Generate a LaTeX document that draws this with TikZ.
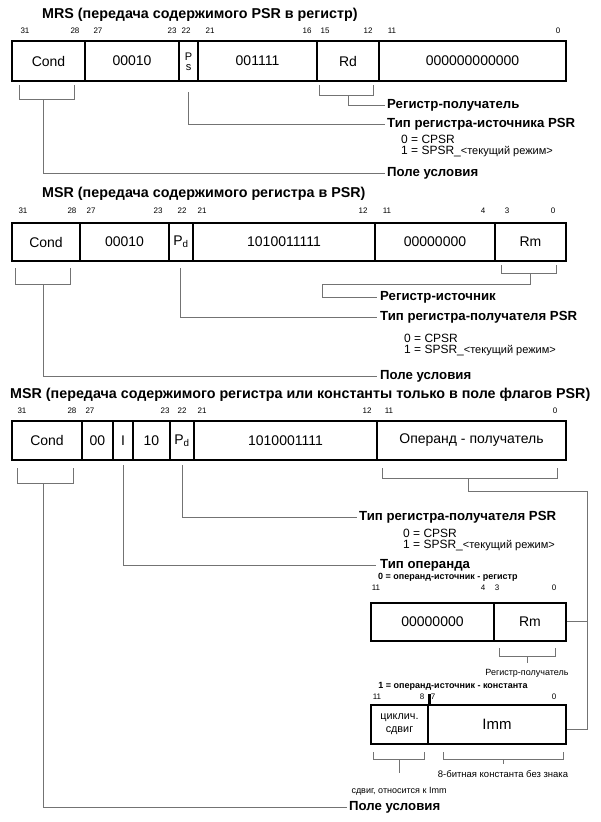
\documentclass[tikz,border=0pt]{standalone}
\usepackage{fontspec}
\setmainfont{Liberation Sans}
\newcommand\fsz[1]{\fontsize{#1}{#1}\selectfont}
\begin{document}
\begin{tikzpicture}[x=1pt,y=-1pt,
  cell/.style={draw=black, line width=2.6pt, inner sep=0pt, align=center, font=\fsz{14}},
  bitn/.style={inner sep=0pt, font=\fsz{8}},
  ttl/.style={anchor=west, inner sep=0pt, font=\bfseries\fsz{14.3}},
  lbl/.style={anchor=west, inner sep=0pt, font=\bfseries\fsz{13.2}},
  val/.style={anchor=west, inner sep=0pt, font=\fsz{12}, text height=8pt, text depth=1.5pt},
  sbold/.style={inner sep=0pt, font=\bfseries\fsz{9}},
  sreg/.style={inner sep=0pt, font=\fsz{9}},
  psl/.style={inner sep=0pt, font=\fsz{11}, text height=7pt, text depth=1pt},
  conn/.style={draw=black!55, line width=0.9pt}]
\fill[white] (0,0) rectangle (600,822);
\useasboundingbox (0,0) rectangle (600,822);
\newcommand\regm{{\fsz{11}<текущий режим>}}
% ===== Section 1 =====
\node[ttl] (t1) at (42,15) {MRS (передача содержимого PSR в регистр)};
\foreach \x/\t [count=\i] in {25/31,75/28,98/27,172/23,186/22,210/21,307/16,325/15,368/12,392/11,558/0}
  \node[bitn] (b1-\i) at (\x,31) {\t};
\node[cell, minimum width=73pt, minimum height=40pt] (r1a) at (48.5,61) {Cond};
\node[cell, minimum width=94pt, minimum height=40pt] (r1b) at (132,61) {00010};
\node[cell, minimum width=19pt, minimum height=40pt] (r1c) at (188.5,61) {};
\node[psl] (r1cp) at (188.5,57) {P};
\node[psl] (r1cs) at (188.5,67) {s};
\node[cell, minimum width=119pt, minimum height=40pt] (r1d) at (257.5,61) {001111};
\node[cell, minimum width=62pt, minimum height=40pt] (r1e) at (348,61) {Rd};
\node[cell, minimum width=187pt, minimum height=40pt] (r1f) at (472.5,61) {000000000000};
\node[lbl] (l1rd) at (387,105) {Регистр-получатель};
\node[lbl] (l1ps) at (387,124) {Тип регистра-источника PSR};
\node[val] (l1v0) at (401,140) {0 = CPSR};
\node[val] (l1v1) at (401,151) {1 = SPSR\_\regm};
\node[lbl] (l1pu) at (387,173) {Поле условия};
\draw[conn] (19,85) |- (74,99) -- (74,85);
\draw[conn] (43,99) |- ([xshift=-2pt]l1pu.west);
\draw[conn] ([yshift=-10pt]r1c.south) |- ([xshift=-2pt]l1ps.west);
\draw[conn] (319,85) |- (373,95) -- (373,85);
\draw[conn] (348,95) |- ([xshift=-2pt]l1rd.west);
% ===== Section 2 =====
\node[ttl] (t2) at (42,194) {MSR (передача содержимого регистра в PSR)};
\foreach \x/\t [count=\i] in {23/31,72/28,91/27,158/23,182/22,202/21,363/12,387/11,483/4,507/3,553/0}
  \node[bitn] (b2-\i) at (\x,211) {\t};
\node[cell, minimum width=68pt, minimum height=38pt] (r2a) at (46,242) {Cond};
\node[cell, minimum width=89pt, minimum height=38pt] (r2b) at (124.5,242) {00010};
\node[cell, minimum width=24pt, minimum height=38pt] (r2c) at (181,242) {P\textsubscript{d}};
\node[cell, minimum width=182pt, minimum height=38pt] (r2d) at (284,242) {1010011111};
\node[cell, minimum width=120pt, minimum height=38pt] (r2e) at (435,242) {00000000};
\node[cell, minimum width=71pt, minimum height=38pt] (r2f) at (530.5,242) {Rm};
\node[lbl] (l2rs) at (380,297) {Регистр-источник};
\node[lbl] (l2pd) at (380,317) {Тип регистра-получателя PSR};
\node[val] (l2v0) at (404,339) {0 = CPSR};
\node[val] (l2v1) at (404,350) {1 = SPSR\_\regm};
\node[lbl] (l2pu) at (380,376) {Поле условия};
\draw[conn] (15,268) |- (70,284) -- (70,268);
\draw[conn] (43,284) |- ([xshift=-3pt]l2pu.west);
\draw[conn] (180,268) |- ([xshift=-3pt]l2pd.west);
\draw[conn] (501,265) |- (556,273) -- (556,265);
\draw[conn] (530,273) -- (530,284) -- (322,284) |- ([xshift=-3pt]l2rs.west);
% ===== Section 3 =====
\node[ttl] (t3) at (10,395) {MSR (передача содержимого регистра или константы только в поле флагов PSR)};
\foreach \x/\t [count=\i] in {22/31,72/28,90/27,165/23,182/22,202/21,367/12,389/11,555/0}
  \node[bitn] (b3-\i) at (\x,411) {\t};
\node[cell, minimum width=70pt, minimum height=39pt] (r3a) at (47,440.5) {Cond};
\node[cell, minimum width=31pt, minimum height=39pt] (r3b) at (97.5,440.5) {00};
\node[cell, minimum width=20pt, minimum height=39pt] (r3c) at (123,440.5) {I};
\node[cell, minimum width=37pt, minimum height=39pt] (r3d) at (151.5,440.5) {10};
\node[cell, minimum width=24pt, minimum height=39pt] (r3e) at (182,440.5) {P\textsubscript{d}};
\node[cell, minimum width=183pt, minimum height=39pt] (r3f) at (285.5,440.5) {1010001111};
\node[cell, minimum width=189pt, minimum height=39pt] (r3g) at (471.5,440.5) {Операнд - получатель};
\node[lbl] (l3pd) at (359,517) {Тип регистра-получателя PSR};
\node[val] (l3v0) at (403,534) {0 = CPSR};
\node[val] (l3v1) at (403,545) {1 = SPSR\_\regm};
\node[lbl] (l3to) at (380,565) {Тип операнда};
\node[sbold, anchor=west] (l3o0) at (378,577) {0 = операнд-источник - регистр};
\node[lbl] (l3pu) at (349,807) {Поле условия};
\draw[conn] (17,468) |- (73,483) -- (73,468);
\draw[conn] (43,483) |- ([xshift=-2pt]l3pu.west);
\draw[conn] (123,465) |- ([xshift=-4pt]l3to.west);
\draw[conn] (182,465) |- ([xshift=-2pt]l3pd.west);
\draw[conn] (382,468) |- (557,478) -- (557,468);
\coordinate (bus) at (587,491);
% ----- register operand box -----
\foreach \x/\t [count=\i] in {376/11,483/4,497/3,554/0}
  \node[bitn] (b4-\i) at (\x,588) {\t};
\node[cell, minimum width=123pt, minimum height=38pt] (r4a) at (432.5,622) {00000000};
\node[cell, minimum width=72pt, minimum height=38pt] (r4b) at (530,622) {Rm};
\draw[conn] (499,648) |- (555,656) -- (555,648);
\draw[conn] (527,656) -- (527,663);
\node[sreg] (l4rp) at (527,673) {Регистр-получатель};
\node[sbold] (l4o1) at (453,686) {1 = операнд-источник - константа};
% ----- immediate operand box -----
\foreach \x/\t [count=\i] in {377/11,422/8,433/7,554/0}
  \node[bitn] (b5-\i) at (\x,697) {\t};
\node[cell, minimum width=57pt, minimum height=39pt, font=\fsz{10.8}] (r5a) at (399.5,724.5) {циклич.\\[2pt]сдвиг};
\node[cell, minimum width=138pt, minimum height=39pt, font=\fsz{15}] (r5b) at (497,724.5) {Imm};
\draw[line width=2.6pt] (r5a.north east) -- ++(0,-10);
\draw[conn] (373,752) |- (424,759) -- (424,752);
\draw[conn] (399,759) -- (399,773);
\draw[conn] (443,752) |- (563,759) -- (563,752);
\draw[conn] (503,759) -- (503,764);
\node[sreg, font=\fsz{9.5}] (l5c) at (503,774) {8-битная константа без знака};
\node[sreg] (l5s) at (399,791) {сдвиг, относится к Imm};
% ----- operand bus -----
\draw[conn] (468,478) -- (468,491) -- (bus) -- (587,729) -- ([yshift=-4.5pt]r5b.east);
\draw[conn] (587,621) -- ([yshift=1pt]r4b.east);
\end{tikzpicture}
\end{document}
